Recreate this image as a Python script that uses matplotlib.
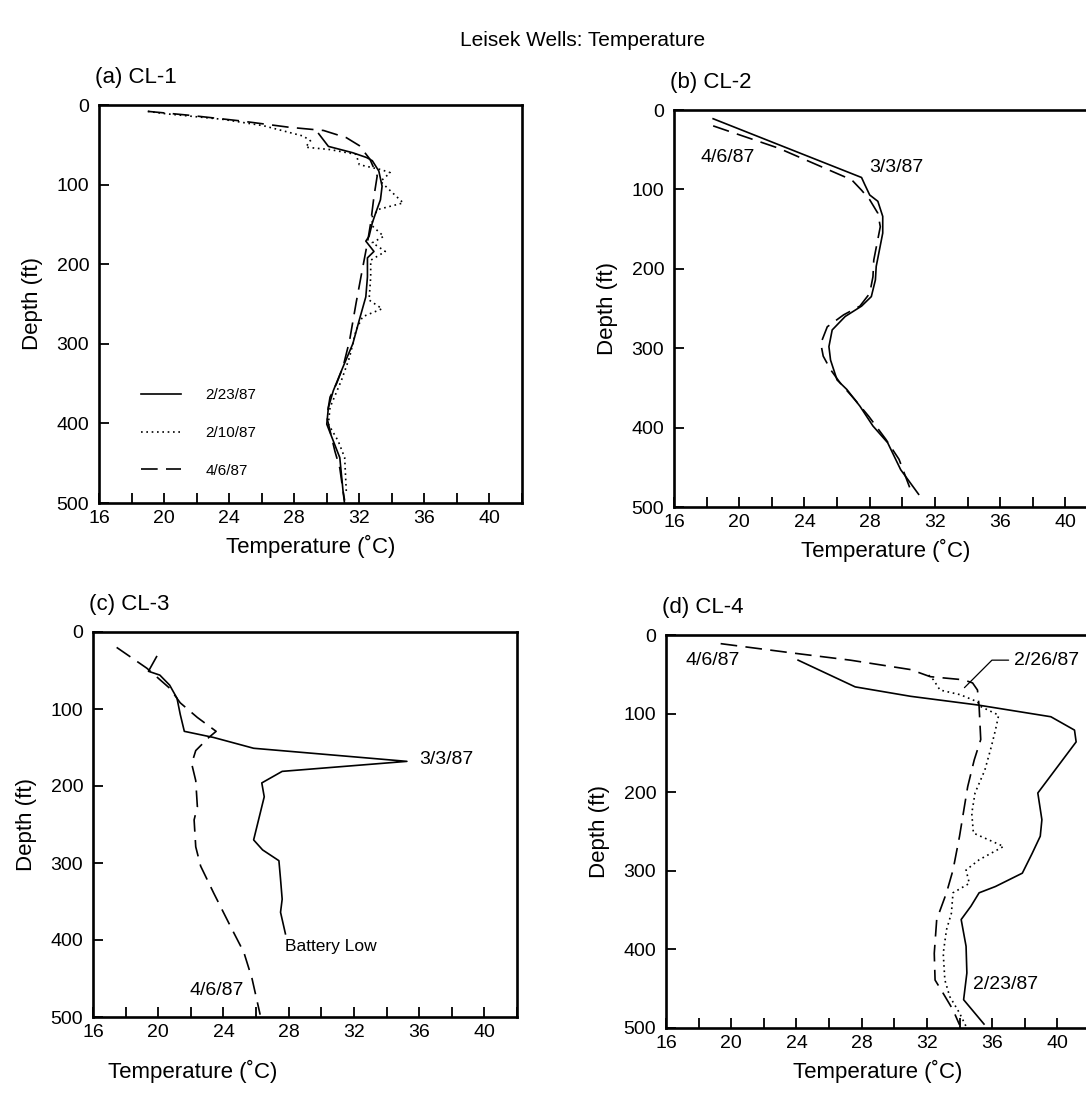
import matplotlib
matplotlib.use('Agg')
import matplotlib.pyplot as plt
from matplotlib.ticker import MultipleLocator

plt.rcParams['font.family'] = ['Liberation Sans', 'DejaVu Sans']

# (a) CL-1
a_solid_t = [29.5, 30.1, 31.6, 32.45, 32.8, 33.2, 33.4, 33.3, 33.0, 32.8, 32.6, 32.4, 32.9, 32.5,
             32.5, 32.4, 32.0, 31.6, 31.0, 30.4, 30.1, 30.0, 30.4, 30.8, 30.9, 31.0, 31.1]
a_solid_d = [36, 52, 60, 66, 70, 83, 102, 119, 136, 148, 165, 171, 184, 192,
             216, 241, 270, 300, 329, 359, 380, 401, 422, 443, 464, 485, 502]
a_dot_t = [19.0, 20.1, 23.6, 26.1, 28.55, 29.0, 28.7, 30.2, 31.8, 32.0, 33.3, 33.9, 33.3, 34.7, 33.2,
           32.8, 32.8, 33.5, 32.8, 33.6, 32.7, 32.7, 32.6, 33.4, 32.2, 31.8, 31.4, 30.9, 30.2, 30.1,
           30.7, 31.1, 31.2]
a_dot_d = [8, 11, 18, 26, 39, 45, 53, 56, 62, 75, 81, 85, 96, 123, 131,
           140, 152, 165, 173, 184, 195, 216, 245, 256, 266, 283, 317, 346, 380, 401,
           422, 443, 485]
a_dash_t = [19.0, 21.6, 24.7, 27.7, 29.8, 31.2, 32.0, 32.65, 33.1, 32.9, 32.7, 32.5, 32.1, 31.8,
            31.4, 31.0, 30.6, 30.2, 30.0, 30.2, 30.5, 30.8, 31.0, 31.1]
a_dash_d = [8, 13, 20, 28, 32, 41, 51, 68, 89, 115, 148, 173, 216, 249,
            296, 329, 350, 367, 392, 409, 435, 456, 485, 497]

# (b) CL-2
b_solid_t = [18.4, 27.5, 27.7, 28.0, 28.5, 28.8, 28.8, 28.6, 28.4, 28.35, 28.1, 27.5, 26.5, 25.7,
             25.5, 25.6, 26.0, 26.6, 27.4, 28.2, 29.1, 29.5, 29.9, 31.0]
b_solid_d = [11, 85, 94, 107, 115, 134, 155, 176, 197, 214, 235, 247, 260, 277,
             298, 315, 340, 352, 373, 398, 419, 436, 453, 484]
b_dash_t = [18.4, 22.4, 26.9, 27.5, 28.0, 28.5, 28.65, 28.45, 28.25, 28.2, 28.0, 27.4, 26.4, 25.4,
            25.0, 25.15, 25.6, 26.2, 27.1, 27.95, 29.0, 29.8, 30.5]
b_dash_d = [20, 48, 88, 101, 113, 130, 147, 168, 189, 210, 231, 247, 258, 273,
            294, 310, 327, 344, 365, 386, 415, 440, 478]

# (c) CL-3
c_solid_t = [19.9, 19.4, 20.1, 20.7, 21.15, 21.35, 21.6, 23.4, 25.85, 35.25, 27.6, 26.35, 26.5,
             25.85, 26.4, 27.4, 27.5, 27.6, 27.5, 27.8]
c_solid_d = [32, 51, 56, 69, 86, 107, 129, 137, 151, 168, 181, 196, 214,
             270, 283, 297, 321, 347, 364, 392]
c_dash_t = [17.45, 19.3, 20.7, 21.35, 22.4, 23.55, 23.1, 22.3, 22.05, 22.3, 22.4, 22.2, 22.3,
            22.6, 23.4, 24.4, 25.25, 25.75, 26.25]
c_dash_d = [20, 47, 73, 92, 111, 129, 137, 154, 171, 193, 227, 244, 279,
            304, 339, 381, 416, 450, 497]

# (d) CL-4
d_solid_t = [24.1, 27.6, 31.0, 35.1, 39.6, 41.05, 41.15, 38.8, 39.05, 38.95, 38.45, 37.85, 36.2,
             35.2, 34.7, 34.1, 34.4, 34.45, 34.25, 35.5]
d_solid_d = [32, 66, 78, 89, 104, 121, 136, 201, 235, 256, 278, 303, 320,
             328, 345, 362, 396, 430, 464, 495]
d_dot_t = [32.1, 32.4, 32.8, 34.05, 35.1, 35.3, 36.4, 36.2, 35.95, 35.55, 34.95, 34.75, 34.85,
           36.7, 35.2, 34.4, 34.6, 33.6, 33.5, 33.2, 33.0, 33.1, 33.4, 34.0, 34.4]
d_dot_d = [51, 57, 70, 76, 85, 91, 102, 121, 142, 172, 201, 227, 252,
           269, 286, 299, 316, 328, 354, 375, 405, 439, 460, 481, 498]
d_dash_t = [19.35, 23.8, 27.3, 31.0, 32.2, 34.25, 34.8, 35.1, 35.2, 35.3, 34.9, 34.5, 34.3, 34.0,
            33.6, 33.2, 32.6, 32.45, 32.5, 33.0, 33.6, 34.0]
d_dash_d = [11, 23, 32, 44, 53, 57, 61, 70, 91, 133, 159, 193, 218, 256,
            299, 328, 362, 405, 439, 456, 477, 496]

SOLID = '-'
DOT = (0, (1, 2.2))
DASH = (0, (10, 5))
LW = 1.2

fig = plt.figure(figsize=(10.86, 10.93), dpi=100)
W, H = 1086.0, 1093.0


def make_ax(left, top, right, bottom, title):
    ax = fig.add_axes([left / W, 1 - bottom / H, (right - left) / W, (bottom - top) / H])
    ax.set_xlim(16, 42)
    ax.set_ylim(500, 0)
    ax.xaxis.set_major_locator(MultipleLocator(4))
    ax.xaxis.set_minor_locator(MultipleLocator(2))
    ax.yaxis.set_major_locator(MultipleLocator(100))
    ax.tick_params(axis='both', which='both', direction='in', length=7, width=1.3,
                   labelsize=14, pad=5)
    ax.tick_params(axis='y', pad=7)
    for s in ax.spines.values():
        s.set_linewidth(1.9)
    ax.set_xlabel('Temperature (˚C)', fontsize=16, labelpad=6)
    ax.set_ylabel('Depth (ft)', fontsize=16, labelpad=10)
    ax.set_title(title, fontsize=16, loc='left', pad=16, x=-0.01)
    return ax


axa = make_ax(99, 105, 522, 503, '(a) CL-1')
axb = make_ax(674, 110, 1098, 507, '(b) CL-2')
axc = make_ax(93, 632, 517, 1017, '(c) CL-3')
axd = make_ax(666, 635, 1090, 1028, '(d) CL-4')

# (a)
axa.plot(a_solid_t, a_solid_d, color='black', lw=LW, ls=SOLID, label='2/23/87')
axa.plot(a_dot_t, a_dot_d, color='black', lw=LW, ls=DOT, label='2/10/87')
axa.plot(a_dash_t, a_dash_d, color='black', lw=LW, ls=DASH, label='4/6/87')
axa.legend(loc='upper left', bbox_to_anchor=(0.1, 0.288), frameon=False, fontsize=11,
           handlelength=2.6, handletextpad=1.6, labelspacing=1.55, borderpad=0,
           borderaxespad=0)

# (b)
axb.plot(b_solid_t, b_solid_d, color='black', lw=LW, ls=SOLID)
axb.plot(b_dash_t, b_dash_d, color='black', lw=LW, ls=DASH)
axb.text(17.6, 60, '4/6/87', fontsize=14, va='center')
axb.text(28.0, 72, '3/3/87', fontsize=14, va='center')

# (c)
axc.plot(c_solid_t, c_solid_d, color='black', lw=LW, ls=SOLID)
axc.plot(c_dash_t, c_dash_d, color='black', lw=LW, ls=DASH)
axc.text(36.0, 166, '3/3/87', fontsize=14, va='center')
axc.text(27.8, 408, 'Battery Low', fontsize=12.5, va='center')
axc.text(21.9, 465, '4/6/87', fontsize=14, va='center')
axc.xaxis.set_label_coords(0.235, -0.112)

# (d)
axd.plot(d_solid_t, d_solid_d, color='black', lw=LW, ls=SOLID)
axd.plot(d_dot_t, d_dot_d, color='black', lw=LW, ls=DOT)
axd.plot(d_dash_t, d_dash_d, color='black', lw=LW, ls=DASH)
axd.text(17.2, 32, '4/6/87', fontsize=14, va='center')
axd.annotate('2/26/87', xy=(34.3, 67), xytext=(37.35, 32), fontsize=14, va='center',
             arrowprops=dict(arrowstyle='-', color='black', lw=0.9, shrinkA=2, shrinkB=0,
                             relpos=(0, 0.5),
                             connectionstyle='angle,angleA=180,angleB=45,rad=0'))
axd.text(34.8, 445, '2/23/87', fontsize=14, va='center')

fig.text(583 / W, 1 - 40 / H, 'Leisek Wells: Temperature', fontsize=15, ha='center', va='center')

plt.savefig('out.png', dpi=100)
